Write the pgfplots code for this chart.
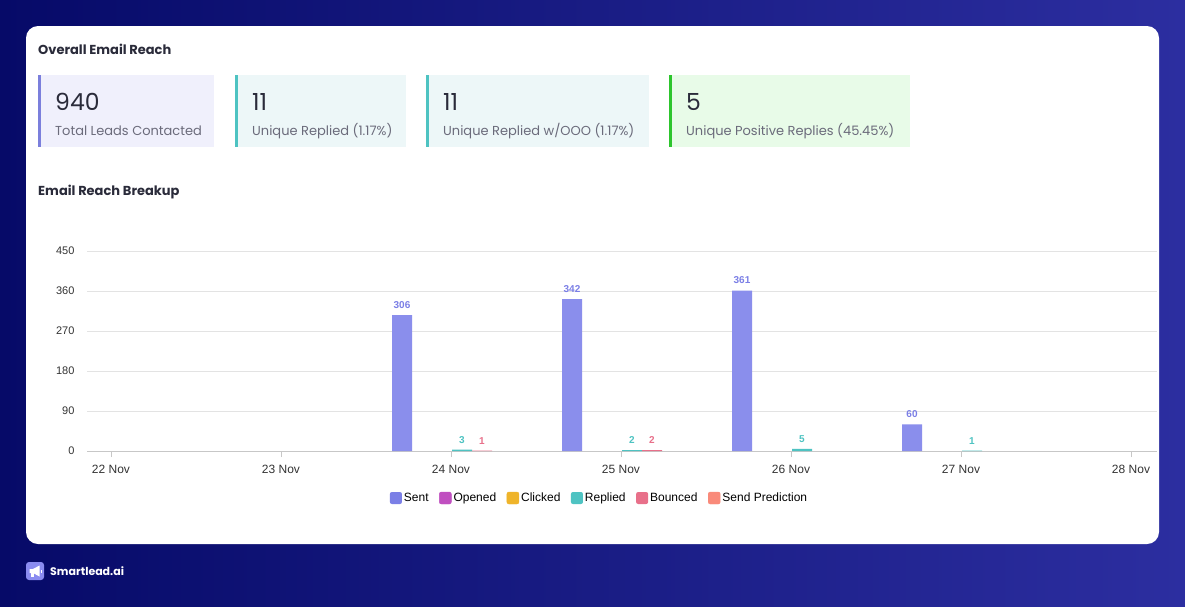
\documentclass[border=0pt]{standalone}
\usepackage{fontspec}
\setmainfont{Liberation Sans}
\newfontfamily\pop{Poppins}
\usepackage{pgfplots}
\pgfplotsset{compat=1.18}
\definecolor{bgL}{HTML}{060A68}
\definecolor{bgR}{HTML}{2C2EA0}
\definecolor{sentc}{HTML}{7B7FE6}
\definecolor{sentbar}{HTML}{8A8EEC}
\definecolor{openc}{HTML}{C04FC0}
\definecolor{clickc}{HTML}{EFB42A}
\definecolor{replc}{HTML}{4EC3C2}
\definecolor{bouncec}{HTML}{E8708A}
\definecolor{predc}{HTML}{F98A7A}
\definecolor{kbgA}{HTML}{F0F0FC}
\definecolor{kbdA}{HTML}{7B7FDC}
\definecolor{kbgB}{HTML}{EDF7F8}
\definecolor{kbdB}{HTML}{4EC3C2}
\definecolor{kbgC}{HTML}{E8FBE8}
\definecolor{kbdC}{HTML}{2DC52D}
\definecolor{numc}{HTML}{2A2B3A}
\definecolor{lblc}{HTML}{6B6B7B}
\definecolor{logoc}{HTML}{8A8CF0}
\pgfplotsset{sq/.style={legend image code/.code={\fill[#1, rounded corners=2pt] (0pt,-6pt) rectangle (12pt,6pt);}}}
\begin{document}
\begin{tikzpicture}[x=1pt,y=-1pt,
  knum/.style={anchor=base west, inner sep=0, text=numc, font=\pop\fontsize{23.5}{25}\selectfont},
  klbl/.style={anchor=base west, inner sep=0, text=lblc, font=\pop\fontsize{13}{15}\selectfont}]
\useasboundingbox (0,0) rectangle (1185,606);
\shade[left color=bgL, right color=bgR] (0,0) rectangle (1185,606);
\fill[white, rounded corners=12pt] (26,26) rectangle (1159,544);
% titles
\node[anchor=base west, inner sep=0, font=\pop\bfseries\fontsize{13}{15}\selectfont, text=numc] at (38,54) {Overall Email Reach};
\node[anchor=base west, inner sep=0, font=\pop\bfseries\fontsize{13}{15}\selectfont, text=numc] at (38,195) {Email Reach Breakup};
% KPI boxes
\fill[kbgA] (38,75) rectangle (214,147); \fill[kbdA] (38,75) rectangle (41,147);
\fill[kbgB] (235,75) rectangle (406,147); \fill[kbdB] (235,75) rectangle (238,147);
\fill[kbgB] (426,75) rectangle (649,147); \fill[kbdB] (426,75) rectangle (429,147);
\fill[kbgC] (669,75) rectangle (910,147); \fill[kbdC] (669,75) rectangle (672,147);
\node[knum] at (55,110) {940};
\node[klbl] at (55,135) {Total Leads Contacted};
\node[knum] at (252,110) {11};
\node[klbl] at (252,135) {Unique Replied (1.17\%)};
\node[knum] at (443,110) {11};
\node[klbl] at (443,135) {Unique Replied w/OOO (1.17\%)};
\node[knum] at (686,110) {5};
\node[klbl] at (686,135) {Unique Positive Replies (45.45\%)};
% logo
\fill[logoc, rounded corners=3pt] (26,562) rectangle (44,580);
\fill[white] (29.5,569) -- (33,569) -- (39.5,565.5) -- (39.5,576.5) -- (33,573) -- (29.5,573) -- cycle;
\fill[white] (31,573) rectangle (33.5,577);
\fill[white] (40.5,569.5) rectangle (42,572.5);
\node[anchor=base west, inner sep=0, text=white, font=\pop\bfseries\fontsize{11}{13}\selectfont] at (50,575) {Smartlead.ai};
% chart
\begin{axis}[
  at={(87pt,-451pt)}, anchor=south west,
  scale only axis, width=1070pt, height=200pt,
  xmin=-0.1412, xmax=6.1529, ymin=0, ymax=450,
  xtick={0,...,6},
  xticklabels={22 Nov,23 Nov,24 Nov,25 Nov,26 Nov,27 Nov,28 Nov},
  ytick={0,90,...,450},
  ymajorgrids, grid style={draw=black!11, line width=0.8pt},
  axis x line*=bottom, axis y line*=left,
  y axis line style={draw=none},
  x axis line style={draw=black!22, line width=1pt, -},
  xtick style={draw=black!22, line width=0.8pt},
  major tick length=6pt, tick align=outside,
  ytick style={draw=none},
  /pgf/number format/assume math mode=true,
  xticklabel style={font=\fontsize{12}{14}\selectfont, text=black!80, yshift=-5pt},
  yticklabel style={font=\fontsize{11}{13}\selectfont, text=black!80, xshift=-3pt},
  legend columns=6,
  legend style={at={(0.479,-0.235)}, anchor=center, draw=none, fill=none,
    font=\fontsize{12}{14}\selectfont,
    /tikz/every even column/.append style={column sep=8.5pt},
    nodes={inner sep=2pt}},
  clip=false,
]
\addplot[ybar, bar width=20pt, bar shift=-49pt, fill=sentbar, draw=none, sq=sentc,
  nodes near coords, every node near coord/.append style={text=sentc, font=\bfseries\fontsize{10}{12}\selectfont, yshift=3pt, xshift=-49pt}]
  coordinates {(2,306) (3,342) (4,361) (5,60)};
\addlegendentry{Sent}
\addlegendimage{sq=openc}
\addlegendentry{Opened}
\addlegendimage{sq=clickc}
\addlegendentry{Clicked}
\addplot[ybar, bar width=20pt, bar shift=11pt, fill=replc, draw=none, sq=replc,
  nodes near coords, every node near coord/.append style={text=replc, font=\bfseries\fontsize{10}{12}\selectfont, yshift=3pt, xshift=11pt}]
  coordinates {(2,3) (3,2) (4,5) (5,1)};
\addlegendentry{Replied}
\addplot[ybar, bar width=20pt, bar shift=31pt, fill=bouncec, draw=none, sq=bouncec,
  nodes near coords, every node near coord/.append style={text=bouncec, font=\bfseries\fontsize{10}{12}\selectfont, yshift=3pt, xshift=31pt}]
  coordinates {(2,1) (3,2)};
\addlegendentry{Bounced}
\addlegendimage{sq=predc}
\addlegendentry{Send Prediction}
\end{axis}
\end{tikzpicture}
\end{document}
